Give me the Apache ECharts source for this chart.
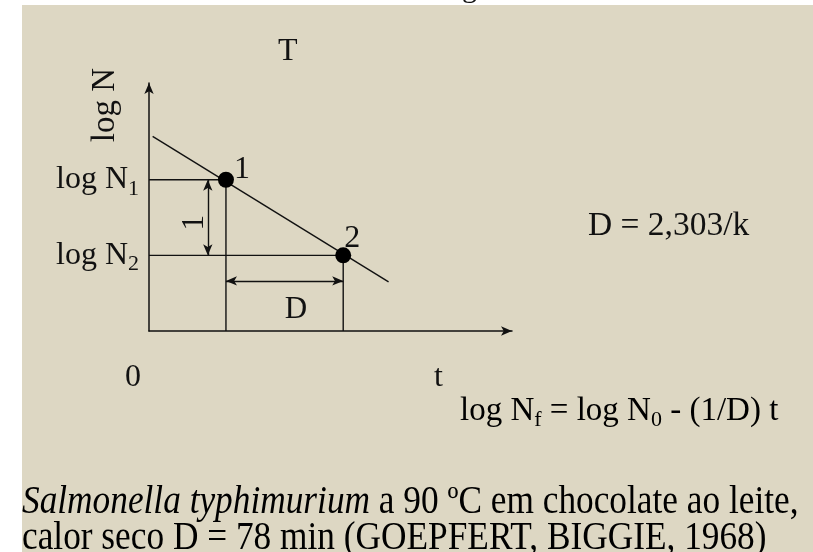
<!DOCTYPE html>
<html>
<head>
<meta charset="utf-8">
<script src="https://cdn.jsdelivr.net/npm/echarts@6/dist/echarts.min.js"></script>
<style>
html,body{margin:0;padding:0;background:#fff;}
#main{width:813px;height:552px;}
</style>
</head>
<body>
<div id="main"></div>
<script>
/*----------data----------*/
var tPoints=[2.12,5.35];	//t of point 1 and 2
var logNPoints=[6.1,3.05];	//log N1, log N2
var pointNames=["1","2"];
var decayLine=[[0.1,7.85],[6.6,1.98]];
var arrowT=1.62;	//x of the vertical "1" arrow
var arrowLogN=2.02;	//y of the horizontal "D" arrow
var yLabels=["1","2"];	//subscripts of log N
/*----------chart----------*/
var serif="'Liberation Serif','Times New Roman',serif";
var ink="#111";
var chart=echarts.init(document.getElementById("main"));
var rich={
	m:{fontFamily:serif,fontSize:32,color:ink,lineHeight:34},
	s:{fontFamily:serif,fontSize:22,color:ink,padding:[18,0,0,0]}
};
var option={
	backgroundColor:"#fff",
	animation:false,
	graphic:[
		{type:"rect",left:22,top:5,z:-10,shape:{width:791,height:547},style:{fill:"#ddd7c3"}},
		{type:"text",left:462,top:-26,style:{text:"g",font:"30px "+serif,fill:ink}},
		{type:"text",left:278,top:36,style:{text:"T",font:"32px "+serif,fill:ink}},
		{type:"text",x:105,y:105,rotation:Math.PI/2,style:{text:"log N",font:"33px "+serif,fill:ink,align:"center",verticalAlign:"middle"}},
		{type:"text",left:125,top:362,style:{text:"0",font:"32px "+serif,fill:ink}},
		{type:"text",left:434,top:362,style:{text:"t",font:"32px "+serif,fill:ink}},
		{type:"text",left:588,top:209,style:{text:"D = 2,303/k",font:"33.5px "+serif,fill:ink}},
		{type:"text",left:460,top:395,style:{text:"{m|log N}{s|f}{m| = log N}{s|0}{m| - (1/D) t}",rich:{
			m:{fontFamily:serif,fontSize:33,color:ink,lineHeight:34},
			s:{fontFamily:serif,fontSize:22,color:ink,padding:[18,0,0,0]}
		}}},
		{type:"text",x:22,y:485,scaleY:1.12,style:{
			text:"{i|Salmonella typhimurium}{n| a 90 ºC em chocolate ao leite,}\n{n|calor seco D = 78 min (GOEPFERT, BIGGIE, 1968)}",
			rich:{
				i:{fontFamily:serif,fontStyle:"italic",fontSize:35.3,color:ink,lineHeight:32},
				n:{fontFamily:serif,fontSize:35.3,color:ink,lineHeight:32}
			}
		}}
	],
	grid:{left:149,top:83,width:363,height:248},
	xAxis:{
		type:"value",min:0,max:10,
		axisLine:{show:true,symbol:["none","arrow"],symbolSize:[7,11],lineStyle:{color:ink,width:1.5}},
		axisTick:{show:false},axisLabel:{show:false},splitLine:{show:false}
	},
	yAxis:{
		type:"value",min:0,max:10,
		axisLine:{show:true,symbol:["none","arrow"],symbolSize:[7,11],lineStyle:{color:ink,width:1.5}},
		axisTick:{show:false},axisLabel:{show:false},splitLine:{show:false}
	},
	series:[
		{	//decay line
			type:"line",data:decayLine,symbol:"none",
			lineStyle:{color:ink,width:1.4}
		},
		{	//guides for point 1
			type:"line",data:[[0,logNPoints[0]],[tPoints[0],logNPoints[0]],[tPoints[0],0]],symbol:"none",
			lineStyle:{color:ink,width:1.4}
		},
		{	//guides for point 2
			type:"line",data:[[0,logNPoints[1]],[tPoints[1],logNPoints[1]],[tPoints[1],0]],symbol:"none",
			lineStyle:{color:ink,width:1.4},
			markLine:{
				silent:true,
				symbol:["arrow","arrow"],
				symbolSize:[7,11],
				lineStyle:{color:ink,width:1.4,type:"solid"},
				label:{show:false},
				data:[
					[{coord:[arrowT,logNPoints[0]]},{coord:[arrowT,logNPoints[1]]}],
					[{coord:[tPoints[0],arrowLogN]},{coord:[tPoints[1],arrowLogN]}]
				]
			}
		},
		{	//points 1 and 2
			type:"scatter",symbolSize:16,itemStyle:{color:"#000",opacity:1},
			data:tPoints.map(function(t,i){
				return {value:[t,logNPoints[i]],label:{show:true,formatter:pointNames[i],
					position:i==0?[16,-18]:[9,-25],
					fontFamily:serif,fontSize:32,color:ink}};
			}),
			z:5
		},
		{	//y labels log N1 / log N2
			type:"scatter",symbolSize:0,itemStyle:{opacity:1},
			data:logNPoints.map(function(v,i){
				return {value:[0,v],label:{show:true,position:"left",distance:10,
					formatter:"{m|log N}{s|"+yLabels[i]+"}",rich:rich}};
			})
		},
		{	//"D" and rotated "1"
			type:"scatter",symbolSize:0,itemStyle:{opacity:1},
			data:[
				{value:[4.05,0.87],label:{show:true,formatter:"D",position:"inside",fontFamily:serif,fontSize:31,color:ink}},
				{value:[1.27,4.36],label:{show:true,formatter:"1",position:"inside",rotate:90,fontFamily:serif,fontSize:31,color:ink}}
			]
		}
	]
};
chart.setOption(option);
</script>
</body>
</html>
